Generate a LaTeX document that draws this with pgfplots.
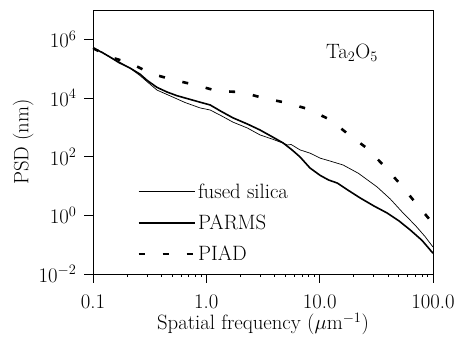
\documentclass[border=0pt]{standalone}
\usepackage{pgfplots}
\pgfplotsset{compat=1.18}
\newcommand{\bigf}{\fontsize{20.74}{25}\selectfont}
\begin{document}
\begin{tikzpicture}
\begin{axis}[
  name=ax,
  scale only axis,
  width=340pt, height=264pt,
  xmode=log, ymode=log,
  xmin=0.1, xmax=100, ymin=1e-2, ymax=1e7,
  xtick={0.1,1,10,100},
  xticklabels={0.1,1.0,10.0,100.0},
  ytick={1e-2,1,1e2,1e4,1e6},
  minor tick num=0,
  minor xtick={}, minor ytick={},
  tick align=outside,
  xtick pos=bottom, ytick pos=left,
  major tick length=9pt,
  axis line style={line width=0.8pt},
  every tick/.style={line width=0.8pt, black},
  tick label style={font=\bigf},
  x tick label style={yshift=-8pt},
  y tick label style={xshift=-4pt},
  label style={font=\bigf},
  xlabel={Spatial frequency ($\mu$m$^{-1}$)},
  ylabel={PSD (nm)},
  x label style={at={(axis description cs:0.5,-0.19)}, anchor=center},
  y label style={at={(axis description cs:-0.205,0.5)}, anchor=center},
  legend style={draw=none, fill=none, font=\bigf,
    at={(0.13,0.35)}, anchor=north west,
    row sep=11pt, inner sep=0pt,
    legend cell align=left},
  legend image code/.code={\draw[#1] (0pt,0pt) -- (56pt,0pt);},
]
\addplot[black, line width=0.7pt] coordinates {
(0.1,5.0e5) (0.12,3.6e5) (0.141,2.5e5) (0.17,1.7e5) (0.212,1.05e5) (0.26,5.8e4) (0.30,3.6e4) (0.367,1.86e4)
(0.5,1.1e4) (0.65,7.0e3) (0.879,4.6e3) (1.08,3.9e3) (1.35,2.5e3) (1.72,1.5e3) (2.3,9.5e2) (2.98,5.5e2)
(3.8,4.0e2) (4.75,2.9e2) (5.2,2.5e2) (5.6,2.6e2) (6.71,1.7e2) (8.22,1.32e2) (10.1,89) (12.5,70) (16.1,52)
(22,27) (32.1,9.3) (42,3.6) (54.5,1.2) (70,0.45) (85,0.19) (100,0.083)};
\addlegendentry{fused silica}
\addplot[black, line width=1.6pt] coordinates {
(0.1,5.0e5) (0.12,3.6e5) (0.141,2.5e5) (0.17,1.6e5) (0.212,1.05e5) (0.26,6.5e4) (0.30,4.0e4) (0.367,2.3e4)
(0.45,1.6e4) (0.55,1.2e4) (0.65,1.0e4) (0.879,7.2e3) (1.08,5.8e3) (1.35,3.5e3) (1.72,2.1e3) (2.3,1.3e3) (2.98,8.1e2)
(3.8,4.8e2) (4.75,2.95e2) (5.7,1.7e2) (6.71,98) (8.22,41) (10.1,23) (12,16) (14.3,12.6) (18,7.0) (22.8,3.9)
(30,2.1) (39.4,1.2) (50,0.65) (62.8,0.32) (80,0.14) (100,0.051)};
\addlegendentry{PARMS}
\addplot[black, line width=2.6pt, dash pattern=on 6pt off 18pt] coordinates {
(0.1,5.0e5) (0.141,2.5e5) (0.212,1.55e5) (0.332,6.6e4) (0.519,4.1e4) (0.811,2.75e4) (1.24,1.74e4)
(2.07,1.58e4) (3.16,1.0e4) (5.15,6.8e3) (7.91,4.2e3) (12.4,1.8e3) (17.8,5.9e2) (26.7,1.82e2)
(36.3,52) (51.3,11.7) (69.5,2.8) (94.2,0.69) (100,0.59)};
\addlegendentry{PIAD}
\node[font=\bigf] at (rel axis cs:0.762,0.837) {Ta$_2$O$_5$};
\end{axis}
\path (ax.south west) ++(-93pt,-64pt);
\path (ax.north east) ++(27pt,10pt);
\end{tikzpicture}
\end{document}
